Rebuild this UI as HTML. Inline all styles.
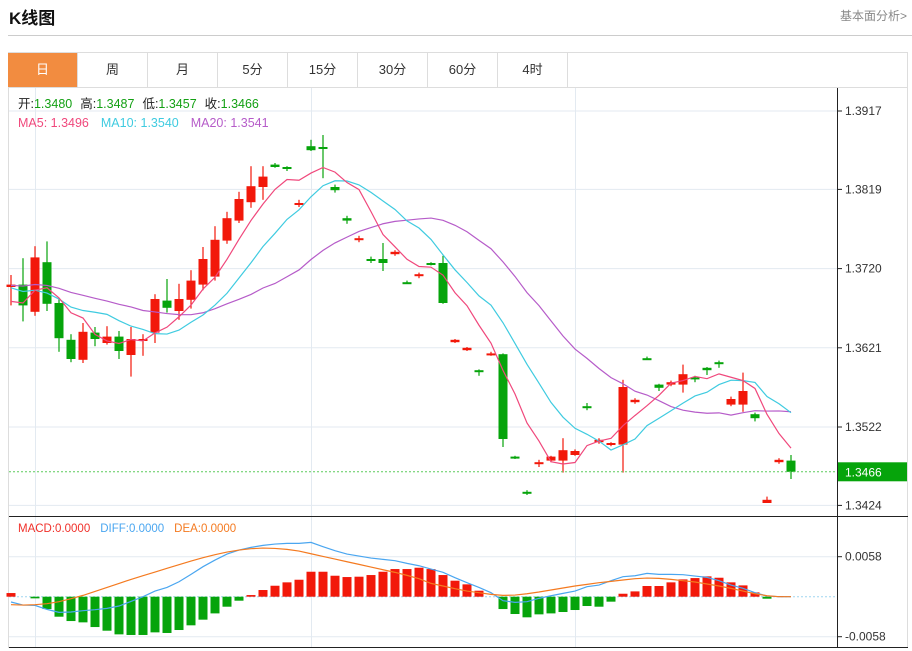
<!DOCTYPE html>
<html><head><meta charset="utf-8">
<style>
body{margin:0;background:#fff;font-family:"Liberation Sans","Noto Sans CJK SC",sans-serif;}
#wrap{position:relative;width:912px;height:651px;overflow:hidden;}
.title{position:absolute;left:9px;top:4px;font-size:17px;font-weight:bold;color:#111;}
.more{position:absolute;left:840px;top:7px;font-size:12px;color:#888;}
.hr{position:absolute;left:8px;top:35px;width:904px;height:1px;background:#ccc;}
.tabs{position:absolute;left:8px;top:52px;width:900px;height:35px;border-top:1px solid #ddd;border-right:1px solid #ddd;box-sizing:border-box;}
.tab{position:absolute;top:0;width:70px;height:35px;line-height:34px;text-align:center;font-size:13px;color:#333;border-right:1px solid #ddd;box-sizing:border-box;}
.tab.on{background:#f28c40;color:#fff;}
svg{position:absolute;left:0;top:0;}
</style></head><body>
<div id="wrap">
<div class="title">K线图</div>
<div class="more">基本面分析&gt;</div>
<div class="hr"></div>
<div class="tabs">
<div class="tab on" style="left:0">日</div>
<div class="tab" style="left:70px">周</div>
<div class="tab" style="left:140px">月</div>
<div class="tab" style="left:210px">5分</div>
<div class="tab" style="left:280px">15分</div>
<div class="tab" style="left:350px">30分</div>
<div class="tab" style="left:420px">60分</div>
<div class="tab" style="left:490px">4时</div>
</div>
<svg id="chart" width="912" height="651"></svg>
</div>
<script>
const prevCloses=[1.3690,1.3695,1.3700,1.3705,1.3710,1.3712,1.3708,1.3704,1.3698,1.3698,1.3720,1.3718,1.3712,1.3708,1.3707,1.3684,1.3654,1.3661,1.3696];
const opens=[1.3697,1.3700,1.3666,1.3728,1.3677,1.3631,1.3606,1.3640,1.3627,1.3635,1.3612,1.3630,1.3640,1.3680,1.3667,1.3681,1.3700,1.3710,1.3755,1.3780,1.3803,1.3822,1.3850,1.3847,1.3800,1.3873,1.3872,1.3822,1.3783,1.3756,1.3732,1.3732,1.3738,1.3703,1.3711,1.3727,1.3727,1.3628,1.3618,1.3593,1.3612,1.3613,1.3485,1.3441,1.3476,1.3480,1.3480,1.3487,1.3548,1.3503,1.3500,1.3500,1.3553,1.3608,1.3575,1.3575,1.3575,1.3584,1.3596,1.3603,1.3550,1.3550,1.3538,1.3427,1.3478,1.3480];
const closes=[1.3700,1.3674,1.3734,1.3676,1.3633,1.3607,1.3641,1.3632,1.3635,1.3617,1.3632,1.3632,1.3682,1.3671,1.3682,1.3705,1.3732,1.3756,1.3783,1.3807,1.3823,1.3835,1.3847,1.3845,1.3802,1.3868,1.3870,1.3818,1.3780,1.3758,1.3730,1.3727,1.3741,1.3702,1.3713,1.3726,1.3677,1.3631,1.3621,1.3591,1.3614,1.3507,1.3483,1.3440,1.3478,1.3485,1.3493,1.3492,1.3546,1.3506,1.3502,1.3572,1.3556,1.3607,1.3571,1.3578,1.3588,1.3582,1.3593,1.3601,1.3557,1.3567,1.3533,1.3431,1.3481,1.3466];
const highs=[1.3712,1.3733,1.3748,1.3754,1.3683,1.3638,1.3652,1.3647,1.3648,1.3642,1.3647,1.3638,1.3688,1.3707,1.3701,1.3718,1.3747,1.3773,1.3791,1.3816,1.3848,1.3848,1.3852,1.3848,1.3806,1.3881,1.3887,1.3825,1.3786,1.3761,1.3735,1.3752,1.3743,1.3705,1.3715,1.3728,1.3736,1.3632,1.3622,1.3594,1.3616,1.3614,1.3486,1.3443,1.3481,1.3486,1.3508,1.3494,1.3552,1.3508,1.3503,1.3581,1.3558,1.3610,1.3576,1.3580,1.3600,1.3586,1.3597,1.3605,1.3560,1.3590,1.3540,1.3435,1.3483,1.3487];
const lows=[1.3674,1.3654,1.3661,1.3667,1.3616,1.3603,1.3602,1.3623,1.3625,1.3607,1.3585,1.3611,1.3627,1.3665,1.3656,1.3670,1.3693,1.3705,1.3751,1.3777,1.3796,1.3806,1.3846,1.3842,1.3797,1.3867,1.3833,1.3815,1.3776,1.3753,1.3727,1.3717,1.3736,1.3701,1.3708,1.3724,1.3676,1.3627,1.3617,1.3586,1.3611,1.3497,1.3482,1.3437,1.3472,1.3478,1.3465,1.3486,1.3543,1.3501,1.3498,1.3465,1.3551,1.3606,1.3567,1.3573,1.3565,1.3578,1.3587,1.3596,1.3548,1.3541,1.3529,1.3427,1.3476,1.3457];
const priceTicks=[1.3917,1.3819,1.3720,1.3621,1.3522,1.3424];
const macdHist=[0.00053,0,-0.00024,-0.00179,-0.00290,-0.00353,-0.00372,-0.00440,-0.00493,-0.00546,-0.00555,-0.00555,-0.00517,-0.00526,-0.00483,-0.00415,-0.00333,-0.00242,-0.00145,-0.00058,0.00024,0.00097,0.00159,0.00208,0.00246,0.00362,0.00362,0.00304,0.00285,0.00290,0.00314,0.00362,0.00401,0.00401,0.00420,0.00401,0.00314,0.00232,0.00179,0.00087,0,-0.00179,-0.00251,-0.00299,-0.00256,-0.00242,-0.00222,-0.00193,-0.00135,-0.00145,-0.00072,0.00043,0.00077,0.00155,0.00155,0.00208,0.00251,0.00270,0.00295,0.00275,0.00208,0.00164,0.00063,-0.00029,0.00010,0];
const diffVals=[-0.00077,-0.00121,-0.00126,-0.00184,-0.00227,-0.00222,-0.00203,-0.00188,-0.00169,-0.00135,-0.00068,0,0.00082,0.00135,0.00217,0.00324,0.00435,0.00531,0.00618,0.00676,0.00715,0.00744,0.00763,0.00773,0.00773,0.00787,0.00725,0.00667,0.00618,0.00589,0.00560,0.00541,0.00522,0.00483,0.00449,0.00401,0.00353,0.00275,0.00203,0.00135,0.00058,-0.00058,-0.00082,-0.00072,-0.00024,0.00014,0.00048,0.00082,0.00145,0.00169,0.00232,0.00290,0.00304,0.00338,0.00324,0.00324,0.00319,0.00299,0.00280,0.00232,0.00169,0.00121,0.00058,0.00010,0,0];
const deaVals=[-0.00116,-0.00121,-0.00116,-0.00101,-0.00072,-0.00029,0.00019,0.00077,0.00135,0.00193,0.00251,0.00304,0.00357,0.00411,0.00464,0.00517,0.00565,0.00609,0.00647,0.00676,0.00696,0.00705,0.00700,0.00686,0.00662,0.00623,0.00584,0.00546,0.00507,0.00469,0.00430,0.00391,0.00353,0.00309,0.00261,0.00193,0.00155,0.00116,0.00082,0.00058,0.00034,0.00019,0.00024,0.00043,0.00068,0.00097,0.00126,0.00155,0.00179,0.00203,0.00222,0.00242,0.00261,0.00270,0.00266,0.00251,0.00232,0.00213,0.00184,0.00155,0.00121,0.00082,0.00043,0.00014,0,0];
const macdTicks=[0.0058,-0.0058];

const RED='#f2180a',GREEN='#06a40b';
const svg=document.getElementById('chart');
const NS='http://www.w3.org/2000/svg';
function mk(tag,attrs,parent){const e=document.createElementNS(NS,tag);for(const k in attrs)e.setAttribute(k,attrs[k]);(parent||svg).appendChild(e);return e;}
const xOf=i=>11+i*12;
const yP=p=>111+(1.3917-p)*8000;
const yM=v=>596.7-v*6897;

// frame
let g;
g=mk('rect',{x:8.5,y:87.5,width:899,height:560,fill:'none',stroke:'#ddd'});


// grid
priceTicks.forEach(p=>{const l=mk('line',{x1:9,x2:837,y1:yP(p),y2:yP(p),stroke:'#e3eaf1'});

});
macdTicks.forEach(v=>{const l=mk('line',{x1:9,x2:837,y1:yM(v),y2:yM(v),stroke:'#e3eaf1'});

});
[35,311,575].forEach(x=>{const l=mk('line',{x1:x+.5,x2:x+.5,y1:88,y2:647,stroke:'#e3eaf1'});

});
// axes
g=mk('line',{x1:837.5,x2:837.5,y1:88,y2:648,stroke:'#222'});


g=mk('line',{x1:9,x2:908,y1:516.5,y2:516.5,stroke:'#222'});


g=mk('line',{x1:9,x2:908,y1:647.5,y2:647.5,stroke:'#222'});


priceTicks.forEach(p=>{mk('line',{x1:837,x2:842,y1:yP(p),y2:yP(p),stroke:'#222'});
const t=mk('text',{x:845,y:yP(p)+4,'font-size':12,fill:'#333'});t.textContent=p.toFixed(4);

});
macdTicks.forEach(v=>{mk('line',{x1:837,x2:842,y1:yM(v),y2:yM(v),stroke:'#222'});
const t=mk('text',{x:845,y:yM(v)+4,'font-size':12,fill:'#333'});t.textContent=v.toFixed(4);

});

// candles
for(let i=0;i<opens.length;i++){
  const up=closes[i]>=opens[i],c=up?RED:GREEN,x=xOf(i);
  const cg=mk('g',{});
  
  
  mk('line',{x1:x,x2:x,y1:yP(highs[i]),y2:yP(lows[i]),stroke:c,'stroke-width':1.2},cg);
  const top=yP(Math.max(opens[i],closes[i])),bot=yP(Math.min(opens[i],closes[i]));
  mk('rect',{x:x-4.5,y:top,width:9,height:Math.max(2,bot-top),fill:c},cg);
}
// moving averages
const allC=prevCloses.concat(closes);
function ma(n){return closes.map((_,i)=>{let s=0;const j=i+prevCloses.length;for(let k=j-n+1;k<=j;k++)s+=allC[k];return s/n;});}
function poly(vals,yf,col,name){const p=mk('polyline',{points:vals.map((v,i)=>xOf(i)+','+yf(v)).join(' '),fill:'none',stroke:col,'stroke-width':1.2});

}
poly(ma(20),yP,'#b65cc9','ma20-line');
poly(ma(10),yP,'#3fcbe0','ma10-line');
poly(ma(5),yP,'#f0487c','ma5-line');

// last price
const last=closes[closes.length-1];
g=mk('line',{x1:9,x2:837,y1:yP(last),y2:yP(last),stroke:'#5ccc5c','stroke-dasharray':'2,2'});


g=mk('rect',{x:838,y:yP(last)-9.5,width:69,height:19,fill:'#06a40b'});


g=mk('text',{x:845,y:yP(last)+4.5,'font-size':12,fill:'#fff'});g.textContent=last.toFixed(4);



// legends
g=mk('text',{x:18,y:108,'font-size':12.5});


const last_i=closes.length-1;
g.innerHTML='<tspan fill="#222">开:</tspan><tspan fill="#13a013">'+opens[last_i].toFixed(4)+'</tspan><tspan fill="#222" dx="8">高:</tspan><tspan fill="#13a013">'+highs[last_i].toFixed(4)+'</tspan><tspan fill="#222" dx="8">低:</tspan><tspan fill="#13a013">'+lows[last_i].toFixed(4)+'</tspan><tspan fill="#222" dx="8">收:</tspan><tspan fill="#13a013">'+last.toFixed(4)+'</tspan>';
const m5=ma(5),m10=ma(10),m20=ma(20);
g=mk('text',{x:18,y:127,'font-size':12.5});


g.innerHTML='<tspan fill="#f0487c">MA5: '+m5[last_i].toFixed(4)+'</tspan><tspan fill="#3fcbe0" dx="12">MA10: '+m10[last_i].toFixed(4)+'</tspan><tspan fill="#b65cc9" dx="12">MA20: '+m20[last_i].toFixed(4)+'</tspan>';
g=mk('text',{x:18,y:532,'font-size':11.5});


g.innerHTML='<tspan fill="#f0302a">MACD:0.0000</tspan><tspan fill="#4aa6f0" dx="10">DIFF:0.0000</tspan><tspan fill="#f47a20" dx="10">DEA:0.0000</tspan>';

// macd
g=mk('line',{x1:9,x2:837,y1:yM(0),y2:yM(0),stroke:'#9fd6f0','stroke-dasharray':'2,2'});


macdHist.forEach((v,i)=>{if(v===0)return;const y0=yM(0),y1=yM(v);
const r=mk('rect',{x:xOf(i)-4.5,y:Math.min(y0,y1),width:9,height:Math.abs(y1-y0),fill:v>0?RED:GREEN});

});
poly(diffVals,yM,'#4aa6f0','diff-line');
poly(deaVals,yM,'#f47a20','dea-line');
</script>
</body></html>
